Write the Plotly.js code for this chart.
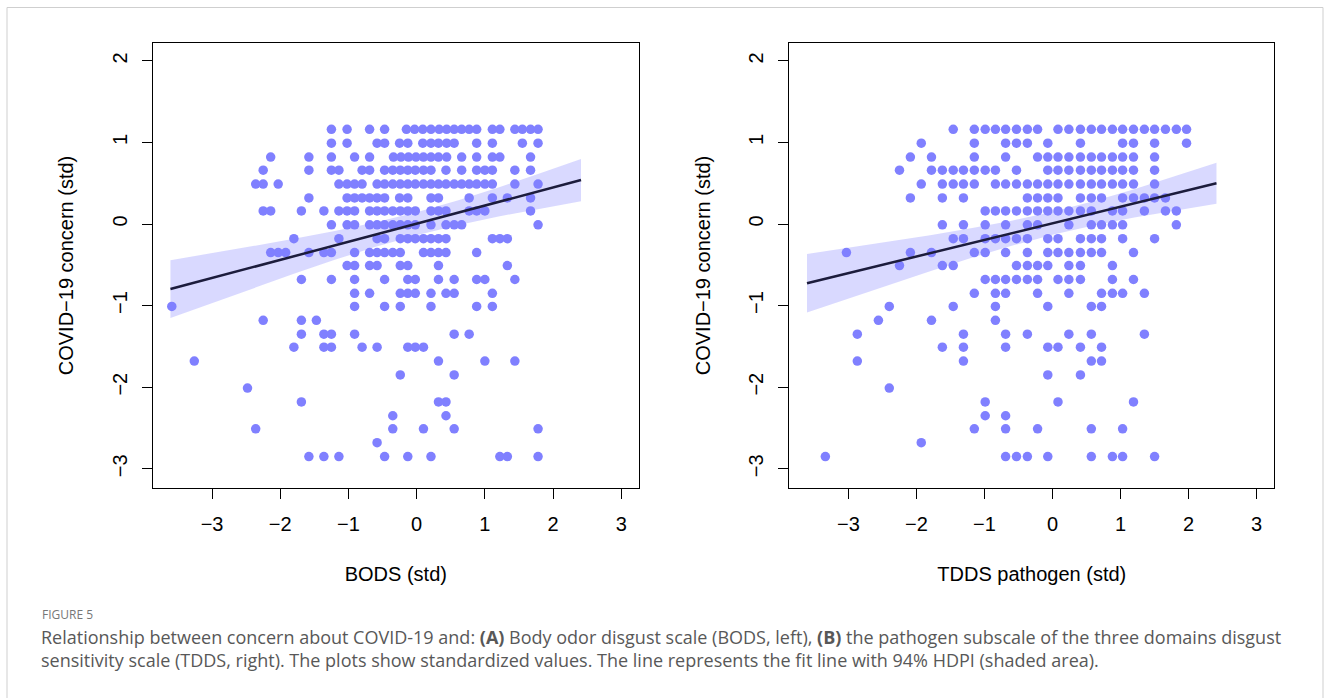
<!DOCTYPE html>
<html>
<head>
<meta charset="utf-8">
<script src="https://cdn.plot.ly/plotly-3.0.1.min.js"></script>
<style>
  html, body { margin: 0; padding: 0; background: #fff; }
  #chart { width: 1330px; height: 698px; }
</style>
</head>
<body>
<div id="chart"></div>
<script>
// ---- Data ----
// Discrete standardized COVID-19 concern levels (y), top to bottom
const concernLevels = [1.16, 0.99, 0.82, 0.66, 0.49, 0.32, 0.16, -0.01, -0.18, -0.35, -0.51, -0.68, -0.85,
  -1.01, -1.18, -1.35, -1.51, -1.68, -1.85, -2.01, -2.18, -2.35, -2.51, -2.68, -2.85];

// Panel A: BODS (std) values of the points on each concern level
const bodsRows = [
  [-1.25, -1.02, -0.69, -0.47, -0.15, -0.03, 0.09, 0.21, 0.33, 0.44, 0.55, 0.66, 0.77, 0.88, 1.11, 1.22, 1.44, 1.55, 1.67, 1.78],
  [-1.25, -1.02, -0.58, -0.47, -0.25, -0.13, 0.09, 0.21, 0.32, 0.44, 0.55, 0.88, 1.11, 1.55, 1.78],
  [-2.14, -1.58, -1.25, -0.91, -0.69, -0.34, -0.23, -0.12, -0.01, 0.10, 0.21, 0.32, 0.44, 0.66, 0.88, 1.11, 1.22, 1.67],
  [-2.25, -1.58, -1.25, -1.14, -0.80, -0.69, -0.47, -0.35, -0.24, -0.13, -0.02, 0.10, 0.21, 0.43, 0.66, 0.88, 1.00, 1.11, 1.44, 1.67],
  [-2.36, -2.25, -2.03, -1.14, -1.02, -0.91, -0.80, -0.58, -0.47, -0.35, -0.24, -0.13, -0.02, 0.10, 0.21, 0.32, 0.43, 0.55, 0.66, 0.77, 0.88, 1.00, 1.11, 1.44, 1.78],
  [-1.58, -1.02, -0.91, -0.80, -0.69, -0.58, -0.47, -0.25, -0.13, 0.21, 0.32, 0.77, 1.11, 1.33, 1.67],
  [-2.25, -2.14, -1.69, -1.36, -1.14, -1.02, -0.91, -0.69, -0.58, -0.47, -0.35, -0.24, -0.13, -0.02, 0.21, 0.32, 0.43, 0.77, 0.88, 1.00, 1.67],
  [-1.25, -1.02, -0.91, -0.69, -0.58, -0.47, -0.35, -0.24, -0.13, -0.02, 0.21, 0.43, 0.55, 0.66, 1.78],
  [-1.80, -1.14, -0.58, -0.47, -0.24, -0.13, -0.02, 0.10, 0.21, 0.32, 0.43, 1.11, 1.22, 1.33],
  [-2.14, -2.03, -1.92, -1.58, -1.36, -1.25, -0.91, -0.69, -0.58, -0.47, -0.35, -0.24, 0.10, 0.21, 0.32, 0.43, 0.88],
  [-1.02, -0.91, -0.69, -0.58, -0.24, -0.13, 0.32, 1.33],
  [-1.69, -1.25, -0.91, -0.47, -0.13, -0.02, 0.32, 0.55, 0.88, 1.00, 1.44],
  [-0.91, -0.69, -0.24, -0.13, -0.02, 0.21, 0.43, 0.55, 1.11],
  [-3.59, -0.91, -0.47, -0.24, 0.21, 0.88, 1.11],
  [-2.25, -1.69, -1.47],
  [-1.69, -1.36, -1.25, -0.91, 0.55, 0.77],
  [-1.80, -1.36, -1.25, -0.80, -0.58, -0.13, -0.02, 0.10],
  [-3.26, 0.32, 1.00, 1.44],
  [-0.24, 0.55],
  [-2.48],
  [-1.69, 0.32, 0.43],
  [-0.35, 0.43],
  [-2.36, -0.35, 0.10, 0.55, 1.78],
  [-0.58],
  [-1.58, -1.36, -1.14, -0.47, -0.13, 0.21, 1.22, 1.33, 1.78]
];

// Panel B: TDDS pathogen (std) values of the points on each concern level
const tddsRows = [
  [-1.46, -1.15, -0.99, -0.84, -0.69, -0.53, -0.37, -0.22, 0.08, 0.24, 0.41, 0.57, 0.72, 0.88, 1.03, 1.19, 1.35, 1.50, 1.66, 1.82, 1.97],
  [-1.93, -1.15, -0.69, -0.53, -0.37, -0.07, 0.41, 1.03, 1.19, 1.50, 1.97],
  [-2.09, -1.78, -1.15, -0.69, -0.22, -0.07, 0.08, 0.24, 0.41, 0.57, 0.72, 0.88, 1.03, 1.19, 1.50],
  [-2.25, -1.78, -1.62, -1.46, -1.31, -1.15, -0.99, -0.84, -0.53, -0.07, 0.08, 0.24, 0.41, 0.57, 0.72, 0.88, 1.03, 1.19, 1.50],
  [-1.93, -1.62, -1.46, -1.31, -1.15, -0.84, -0.69, -0.53, -0.37, -0.22, -0.07, 0.08, 0.24, 0.41, 0.57, 0.72, 0.88, 1.03, 1.19, 1.50],
  [-2.09, -1.62, -1.31, -0.37, -0.22, -0.07, 0.08, 0.41, 0.57, 0.72, 1.03, 1.19, 1.35, 1.50, 1.66],
  [-0.99, -0.84, -0.69, -0.53, -0.37, -0.22, -0.07, 0.08, 0.24, 0.41, 0.57, 0.88, 1.03, 1.35, 1.66, 1.82],
  [-1.62, -1.31, -0.99, -0.69, -0.37, -0.22, 0.24, 0.57, 0.72, 0.88, 1.03, 1.82],
  [-1.46, -1.31, -0.99, -0.84, -0.69, -0.53, -0.37, -0.07, 0.08, 0.41, 0.57, 0.72, 1.03, 1.50],
  [-3.03, -2.09, -1.78, -1.15, -0.99, -0.69, -0.37, -0.07, 0.08, 0.24, 0.41, 0.57, 0.72, 1.19],
  [-2.25, -1.62, -1.46, -0.53, -0.37, -0.22, -0.07, 0.24, 0.41, 0.88],
  [-0.99, -0.84, -0.69, -0.53, -0.37, -0.22, 0.08, 0.24, 0.41, 0.88, 1.19],
  [-1.15, -0.84, -0.69, -0.22, 0.24, 0.72, 0.88, 1.03, 1.35],
  [-2.40, -1.46, -0.84, -0.07, 0.57, 0.72],
  [-2.56, -1.78, -0.84],
  [-2.87, -1.31, -0.69, -0.37, 0.24, 0.57, 1.35],
  [-1.62, -1.31, -0.69, -0.07, 0.08, 0.41, 0.72],
  [-2.87, -1.31, 0.57, 0.72],
  [-0.07, 0.41],
  [-2.40],
  [-0.99, 0.08, 1.19],
  [-0.99, -0.69],
  [-1.15, -0.69, -0.22, 0.57, 1.03],
  [-1.93],
  [-3.34, -0.69, -0.53, -0.37, -0.07, 0.57, 0.88, 1.03, 1.50]
];

// Fit lines and 94% HDPI bands
const fitX      = [-3.61, -3.0, -2.4, -1.8, -1.2, -0.6, 0, 0.6, 1.2, 1.8, 2.41];
const bodsFit   = [-0.797, -0.662, -0.529, -0.396, -0.262, -0.129, 0.004, 0.137, 0.270, 0.404, 0.539];
const bodsLower = [-1.151, -0.966, -0.787, -0.611, -0.439, -0.280, -0.137, -0.014, 0.093, 0.189, 0.280];
const bodsUpper = [-0.443, -0.358, -0.271, -0.181, -0.085, 0.022, 0.145, 0.288, 0.447, 0.619, 0.798];
const tddsFit   = [-0.726, -0.602, -0.480, -0.358, -0.235, -0.113, 0.009, 0.131, 0.253, 0.376, 0.500];
const tddsLower = [-1.085, -0.912, -0.743, -0.578, -0.417, -0.267, -0.132, -0.018, 0.080, 0.166, 0.248];
const tddsUpper = [-0.367, -0.292, -0.217, -0.138, -0.053, 0.041, 0.150, 0.280, 0.426, 0.586, 0.752];

const xTicks = [-3, -2, -1, 0, 1, 2, 3];
const yTicks = [-3, -2, -1, 0, 1, 2];

// ---- Build traces ----
function flatten(rows, levels) {
  const xs = [], ys = [];
  rows.forEach((r, i) => r.forEach(v => { xs.push(v); ys.push(levels[i]); }));
  return { xs, ys };
}
const A = flatten(bodsRows, concernLevels);
const B = flatten(tddsRows, concernLevels);

const pointColor = 'rgb(128,128,255)';
const bandColor = 'rgba(128,128,255,0.3)';
const lineColor = '#1c1c3c';

function panel(xa, ya, pts, lower, upper, fit) {
  return [
    { x: fitX, y: lower, xaxis: xa, yaxis: ya, mode: 'lines', line: { width: 0, color: bandColor }, hoverinfo: 'skip', showlegend: false },
    { x: fitX, y: upper, xaxis: xa, yaxis: ya, mode: 'lines', fill: 'tonexty', fillcolor: bandColor, line: { width: 0, color: bandColor }, hoverinfo: 'skip', showlegend: false },
    { x: pts.xs, y: pts.ys, xaxis: xa, yaxis: ya, mode: 'markers', type: 'scatter', marker: { color: pointColor, size: 9.5, line: { width: 0 } }, showlegend: false },
    { x: fitX, y: fit, xaxis: xa, yaxis: ya, mode: 'lines', line: { color: lineColor, width: 2.5 }, showlegend: false }
  ];
}

const data = [].concat(
  panel('x', 'y', A, bodsLower, bodsUpper, bodsFit),
  panel('x2', 'y2', B, tddsLower, tddsUpper, tddsFit)
);

const W = 1330, H = 698;
const axFont = { family: 'Liberation Sans, Arial, sans-serif', size: 20, color: '#000' };

function xAxis(dom, title, anchor) {
  return {
    domain: dom, anchor: anchor, range: [-3.87, 3.26], tickvals: xTicks,
    ticks: 'outside', ticklen: 10, tickwidth: 1, tickcolor: '#000',
    showline: true, linecolor: '#000', linewidth: 1, mirror: true,
    showgrid: false, zeroline: false, tickfont: axFont, ticklabelstandoff: 8,
    title: { text: title, font: axFont, standoff: 32 }
  };
}
function yAxis(anchor) {
  return {
    domain: [1 - 488.3 / H, 1 - 42.7 / H], anchor: anchor, range: [-3.239, 2.222], tickvals: yTicks,
    ticks: 'outside', ticklen: 10, tickwidth: 1, tickcolor: '#000', tickangle: -90,
    showline: true, linecolor: '#000', linewidth: 1, mirror: true,
    showgrid: false, zeroline: false, tickfont: axFont, ticklabelstandoff: 7,
    title: { text: 'COVID\u221219 concern (std)', font: axFont, standoff: 29 }
  };
}

const capFont = { family: 'Open Sans, Noto Sans, sans-serif', size: 18, color: '#585858' };

const layout = {
  width: W, height: H,
  margin: { l: 0, r: 0, t: 0, b: 0 },
  paper_bgcolor: '#fff', plot_bgcolor: '#fff',
  xaxis: xAxis([152.7 / W, 639 / W], 'BODS (std)', 'y'),
  yaxis: yAxis('x'),
  xaxis2: xAxis([789.3 / W, 1274.3 / W], 'TDDS pathogen (std)', 'y2'),
  yaxis2: yAxis('x2'),
  shapes: [
    { type: 'rect', xref: 'paper', yref: 'paper', x0: 7 / W, x1: 1323 / W, y0: -0.05, y1: 1 - 7.5 / H,
      line: { color: '#cfcfcf', width: 1 }, fillcolor: 'rgba(0,0,0,0)', layer: 'below' }
  ],
  annotations: [
    { xref: 'paper', yref: 'paper', x: 40 / W, y: 1 - 614 / H, xanchor: 'left', yanchor: 'middle', showarrow: false,
      text: 'FIGURE 5', font: { family: 'Open Sans, Noto Sans, sans-serif', size: 12, color: '#777' } },
    { xref: 'paper', yref: 'paper', x: 39 / W, y: 1 - 637 / H, xanchor: 'left', yanchor: 'middle', showarrow: false,
      text: 'Relationship between concern about COVID-19 and: <b>(A)</b> Body odor disgust scale (BODS, left), <b>(B)</b> the pathogen subscale of the three domains disgust',
      font: capFont },
    { xref: 'paper', yref: 'paper', x: 39 / W, y: 1 - 660 / H, xanchor: 'left', yanchor: 'middle', showarrow: false,
      text: 'sensitivity scale (TDDS, right). The plots show standardized values. The line represents the fit line with 94% HDPI (shaded area).',
      font: capFont }
  ]
};

Plotly.newPlot('chart', data, layout, { staticPlot: true, displayModeBar: false });
</script>
</body>
</html>
